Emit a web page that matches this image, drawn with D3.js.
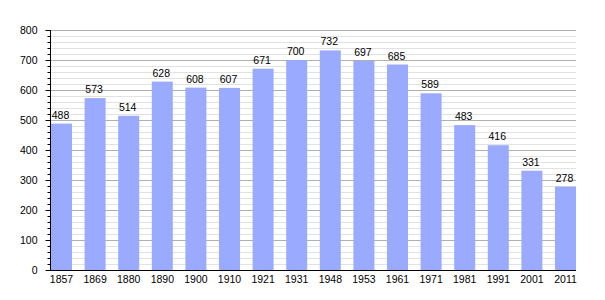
<!DOCTYPE html>
<html><head><meta charset="utf-8">
<script src="https://cdn.jsdelivr.net/npm/d3@7"></script>
<style>body{margin:0;background:#fff}svg{display:block}text{font-family:"Liberation Sans",Arial,sans-serif;font-size:10.5px;fill:#000}</style>
</head><body>
<script>
const years = ["1857","1869","1880","1890","1900","1910","1921","1931","1948","1953","1961","1971","1981","1991","2001","2011"];
const population = [488,573,514,628,608,607,671,700,732,697,685,589,483,416,331,278];
const yTicks = [0,100,200,300,400,500,600,700,800];

(function(){
const W=605,H=300, mLeft=51, mRight=576, mTop=30, mBottom=270;
const svg=d3.select("body").append("svg").attr("width",W).attr("height",H);
const x=d3.scaleBand().domain(years).range([mLeft,mRight]).paddingInner(0.375).paddingOuter(0);
const y=d3.scaleLinear().domain([0,800]).range([mBottom,mTop]);

const minor=d3.range(0,801,20).filter(v=>v%100!==0);
svg.append("g").selectAll("line").data(minor).join("line")
  .attr("x1",mLeft).attr("x2",mRight).attr("y1",d=>Math.round(y(d))+0.5).attr("y2",d=>Math.round(y(d))+0.5)
  .attr("stroke","#e2e2e2").attr("stroke-width",1);
svg.append("g").selectAll("line").data(yTicks.filter(v=>v>0)).join("line")
  .attr("x1",mLeft).attr("x2",mRight).attr("y1",d=>Math.round(y(d))+0.5).attr("y2",d=>Math.round(y(d))+0.5)
  .attr("stroke","#b0b0b0").attr("stroke-width",1);

svg.append("g").selectAll("rect").data(population).join("rect")
  .attr("x",(d,i)=>x(years[i])).attr("width",x.bandwidth())
  .attr("y",d=>y(d)).attr("height",d=>mBottom-y(d)).attr("fill","#99aaff");

svg.append("g").selectAll("text").data(population).join("text")
  .attr("x",(d,i)=>x(years[i])+x.bandwidth()/2-1).attr("y",d=>y(d)-5)
  .attr("text-anchor","middle").text(d=>d);

const ya=svg.append("g").attr("transform",`translate(${mLeft-0.5},0)`);
ya.append("line").attr("x1",0).attr("x2",0).attr("y1",mTop).attr("y2",mBottom).attr("stroke","#000");
ya.selectAll("line.mi").data(minor).join("line").attr("class","mi")
  .attr("x1",-3).attr("x2",0).attr("y1",d=>Math.round(y(d))+0.5).attr("y2",d=>Math.round(y(d))+0.5).attr("stroke","#000");
ya.selectAll("line.ma").data(yTicks).join("line").attr("class","ma")
  .attr("x1",-5).attr("x2",0).attr("y1",d=>Math.round(y(d))+0.5).attr("y2",d=>Math.round(y(d))+0.5).attr("stroke","#000");
ya.selectAll("text").data(yTicks).join("text")
  .attr("x",-13).attr("y",d=>y(d)+4).attr("text-anchor","end").text(d=>d);

const xa=svg.append("g").attr("transform",`translate(0,${mBottom+0.5})`)
  .call(d3.axisBottom(x).tickSize(0).tickPadding(5));
xa.select(".domain").remove();
xa.selectAll("text").attr("font-size",null).attr("font-family",null);
svg.append("line").attr("x1",mLeft-1).attr("x2",mRight).attr("y1",mBottom+0.5).attr("y2",mBottom+0.5).attr("stroke","#000");
})();
</script>
</body></html>
